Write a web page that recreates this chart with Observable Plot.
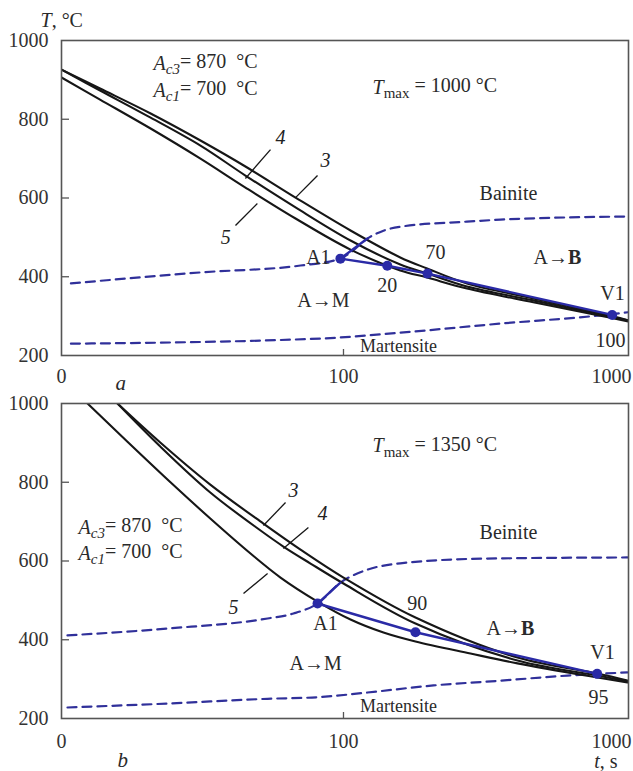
<!DOCTYPE html>
<html>
<head>
<meta charset="utf-8">
<script src="https://cdn.jsdelivr.net/npm/d3@7"></script>
<script src="https://cdn.jsdelivr.net/npm/@observablehq/plot@0.6"></script>
<style>
  html, body { margin: 0; padding: 0; background: #fff; }
  #chart { width: 633px; height: 771px; position: relative; }
  #chart svg { display: block; }
  #chart svg, #chart svg text { font-family: "Liberation Serif", "Times New Roman", serif !important; }
</style>
</head>
<body>
<div id="chart"></div>
<script>
// ---------- shared axis data ----------
const xTicks = [10, 100, 1000];
const xTickLabels = ["0", "100", "1000"];
const yTicks = [200, 400, 600, 800, 1000];

// ---------- panel a (Tmax = 1000 °C) ----------
const aTime = [10, 13.7, 20.7, 31.1, 44.9, 67.6, 105.9, 159, 198, 274, 471, 815, 1025];
const aCurve3 = [926, 878, 814.6, 746, 680, 601, 517.4, 449, 421, 383, 345, 307, 289];
const aCurve4 = [926, 873, 804, 733, 657, 576, 492, 431, 408, 375, 340, 304, 289];
const aCurve5 = [906, 850, 776.5, 700, 626.6, 548, 469, 416, 398, 370, 335, 301, 286];

const aBainiteTime = [10.8, 31.1, 70.4, 97.5, 105.9, 121.6, 138.6, 159, 274, 360, 1025];
const aBainiteTemp = [383, 411, 428.5, 446, 461.5, 497, 517, 527, 540, 545, 553];
const aMartTime = [10.8, 82.8, 159, 360, 815, 1025];
const aMartTemp = [230, 243, 258, 281, 302, 310];

const aPathTime = [97.5, 143, 198.6, 897];
const aPathTemp = [446, 428, 408, 303];
const aBranchTime = [97.5, 121.6];
const aBranchTemp = [446, 497];

// ---------- panel b (Tmax = 1350 °C) ----------
const bTime3 = [15.8, 22.4, 33.7, 52.0, 70.4, 100, 180, 414, 795.5, 1016];
const bCurve3 = [1000, 901, 794, 695, 629, 558, 456.4, 354.8, 314.2, 296.4];
const bTime4 = [15.8, 22.4, 33.7, 50.8, 61.2, 76.4, 100, 180, 414, 795.5, 1016];
const bCurve4 = [1000, 890.8, 774, 677.4, 636.8, 593.6, 542.8, 441.2, 347.2, 309.1, 293.9];
const bTime5 = [12.37, 17.1, 24.4, 33.7, 46.8, 59.8, 80.9, 105.9, 138.6, 180, 282, 414, 795.5, 1016];
const bCurve5 = [1000, 903.5, 799.3, 707.9, 619, 558, 497, 451.4, 418.3, 395.5, 365, 340, 304, 291.3];

const bBainiteTime = [10.5, 23.8, 53.8, 66.5, 80.9, 97.5, 121.6, 159, 313.6, 1016];
const bBainiteTemp = [411, 428.5, 454, 466.6, 492, 545, 578, 594, 606, 609];
const bMartTime = [10.5, 23.8, 53.8, 80.9, 121.6, 208.5, 360, 622, 1016];
const bMartTemp = [228, 238, 250, 254, 266, 284, 296, 309, 317];

const bPathTime = [80.9, 180, 793.6];
const bPathTemp = [492, 419, 313.4];
const bBranchTime = [80.9, 97.5];
const bBranchTemp = [492, 545];

// ---------- helpers ----------
const pts = (xs, ys) => xs.map((x, i) => ({x, y: ys[i]}));
const BLACK = "#161616";
const BLUE = "#30309a";
const BLUE_SOLID = "#2a2aa6";
const GRAY = "#555";
const INK = "#2a2a2a";
const FONT = "'Liberation Serif', 'Times New Roman', serif";

function panel(cfg) {
  const noteMarks = ["start", "middle", "end"].map(anchor =>
    Plot.text(cfg.notes.filter(d => (d.anchor || "middle") === anchor),
      {x: "x", y: "y", text: "t", fontSize: 20, textAnchor: anchor, fill: INK}));
  const marks = [
    Plot.axisY({ticks: yTicks, tickSize: 0, tickPadding: 13, fontSize: 20, tickFormat: d => String(d)}),
    Plot.axisY({ticks: [400, 600, 800], tickSize: 8, dx: 8, stroke: GRAY, strokeWidth: 1.3, tickFormat: () => ""}),
    Plot.axisX({ticks: xTicks.slice(0, 2), tickSize: 0, tickPadding: cfg.xPad, fontSize: 20,
                tickFormat: d => xTickLabels[xTicks.indexOf(d)]}),
    Plot.axisX({ticks: [xTicks[2]], tickSize: 0, tickPadding: cfg.xPad, fontSize: 20, textAnchor: "end", dx: 6,
                tickFormat: d => xTickLabels[xTicks.indexOf(d)]}),
    Plot.axisX({ticks: [100], tickSize: 6, dy: -6, stroke: GRAY, strokeWidth: 1.3, tickFormat: () => ""}),
    // phase boundaries
    Plot.line(pts(cfg.bainiteT, cfg.bainiteV), {x: "x", y: "y", stroke: BLUE, strokeWidth: 2.2,
      strokeDasharray: "9,6", curve: "monotone-x", clip: true}),
    Plot.line(pts(cfg.martT, cfg.martV), {x: "x", y: "y", stroke: BLUE, strokeWidth: 2.2,
      strokeDasharray: "9,6", curve: "monotone-x", clip: true}),
    // cooling curves
    ...cfg.curves.map(c => Plot.line(pts(c[0], c[1]), {x: "x", y: "y", stroke: BLACK, strokeWidth: 2.1,
      curve: "catmull-rom", clip: true})),
    // leaders
    Plot.link(cfg.leaders, {x1: "x1", y1: "y1", x2: "x2", y2: "y2", stroke: BLACK, strokeWidth: 1.3}),
    Plot.text(cfg.leaders, {x: "lx", y: "ly", text: "label", fontSize: 20, fontStyle: "italic", fill: "#222"}),
    // transformation path
    Plot.line(pts(cfg.branchT, cfg.branchV), {x: "x", y: "y", stroke: BLUE_SOLID, strokeWidth: 2.4}),
    Plot.line(pts(cfg.pathT, cfg.pathV), {x: "x", y: "y", stroke: BLUE_SOLID, strokeWidth: 2.4}),
    Plot.dot(pts(cfg.pathT, cfg.pathV), {x: "x", y: "y", r: 5, fill: BLUE_SOLID}),
    // annotations
    ...noteMarks,
    ...cfg.extra,
    Plot.frame({stroke: GRAY, strokeWidth: 1.6})
  ];
  return Plot.plot({
    width: 633,
    height: cfg.height,
    marginTop: cfg.marginTop,
    marginBottom: cfg.marginBottom,
    marginLeft: 61,
    marginRight: 5,
    x: {type: "log", domain: [10, 1025]},
    y: {domain: [200, 1000]},
    style: {fontFamily: FONT, fontSize: "20px", color: "#333", background: "white", overflow: "visible"},
    marks
  });
}

const svgA = panel({
  height: 390, marginTop: 40, marginBottom: 35, xPad: 13,
  curves: [[aTime, aCurve3], [aTime, aCurve4], [aTime, aCurve5]],
  bainiteT: aBainiteTime, bainiteV: aBainiteTemp, martT: aMartTime, martV: aMartTemp,
  pathT: aPathTime, pathV: aPathTemp, branchT: aBranchTime, branchV: aBranchTemp,
  leaders: [
    {x1: 44.9, y1: 649.5, x2: 55.1, y2: 723, lx: 59.8, ly: 754, label: "4"},
    {x1: 67.6, y1: 601, x2: 80.9, y2: 657, lx: 86.3, ly: 695, label: "3"},
    {x1: 41.4, y1: 530, x2: 49.5, y2: 586, lx: 38.2, ly: 500, label: "5"}
  ],
  notes: [
    {x: 21.2, y: 942, t: "Ac3= 870 °C", anchor: "start"},
    {x: 21.2, y: 873, t: "Ac1= 700 °C", anchor: "start"},
    {x: 126.8, y: 881, t: "Tmax = 1000 °C", anchor: "start"},
    {x: 384.6, y: 611, t: "Bainite"},
    {x: 90, y: 449, t: "A1", anchor: "end"},
    {x: 143, y: 377.7, t: "20"},
    {x: 211.8, y: 461.5, t: "70"},
    {x: 574, y: 449, t: "A→B"},
    {x: 899, y: 357, t: "V1"},
    {x: 885, y: 238, t: "100"},
    {x: 84.9, y: 339.6, t: "A→M"},
    {x: 156.7, y: 225.3, t: "Martensite"}
  ],
  extra: [
    Plot.text(["T, °C"], {text: d => d, frameAnchor: "top-left", dx: -21, dy: -20, textAnchor: "start",
      lineAnchor: "middle", fontSize: 20, fill: INK}),
    Plot.text(["a"], {text: d => d, frameAnchor: "bottom-left", dx: 54, dy: 28, lineAnchor: "middle",
      fontSize: 21, fontStyle: "italic", fill: INK})
  ]
});

const svgB = panel({
  height: 381, marginTop: 13, marginBottom: 53, xPad: 15,
  curves: [[bTime3, bCurve3], [bTime4, bCurve4], [bTime5, bCurve5]],
  bainiteT: bBainiteTime, bainiteV: bBainiteTemp, martT: bMartTime, martV: bMartTemp,
  pathT: bPathTime, pathV: bPathTemp, branchT: bBranchTime, branchV: bBranchTemp,
  leaders: [
    {x1: 52.0, y1: 690, x2: 62.3, y2: 748.5, lx: 66.5, ly: 779, label: "3"},
    {x1: 61.2, y1: 631.7, x2: 75.1, y2: 685, lx: 84.2, ly: 720.6, label: "4"},
    {x1: 44.2, y1: 517.4, x2: 53.8, y2: 568, lx: 40.7, ly: 481.8, label: "5"}
  ],
  notes: [
    {x: 11.5, y: 685, t: "Ac3= 870 °C", anchor: "start"},
    {x: 11.5, y: 619, t: "Ac1= 700 °C", anchor: "start"},
    {x: 126.8, y: 893, t: "Tmax = 1350 °C", anchor: "start"},
    {x: 384.6, y: 672, t: "Beinite"},
    {x: 86.3, y: 441, t: "A1"},
    {x: 182.8, y: 492, t: "90"},
    {x: 390.6, y: 428.5, t: "A→B"},
    {x: 828.6, y: 367.5, t: "V1"},
    {x: 802, y: 253, t: "95"},
    {x: 79.6, y: 339.6, t: "A→M"},
    {x: 156.7, y: 233, t: "Martensite"}
  ],
  extra: [
    Plot.text(["b"], {text: d => d, frameAnchor: "bottom-left", dx: 56, dy: 42, lineAnchor: "middle",
      fontSize: 21, fontStyle: "italic", fill: INK}),
    Plot.text(["t, s"], {text: d => d, frameAnchor: "bottom-right", dx: -11, dy: 43, lineAnchor: "middle",
      fontSize: 20, fill: INK})
  ]
});

// rich text: italics, subscripts, bold, smaller words
const richSpecs = {
  "Ac3= 870 °C": [["A", {it: true}], ["c3", {it: true, sub: true}], ["= 870 \u00a0°C", {}]],
  "Ac1= 700 °C": [["A", {it: true}], ["c1", {it: true, sub: true}], ["= 700 \u00a0°C", {}]],
  "Tmax = 1000 °C": [["T", {it: true}], ["max", {sub: true}], [" = 1000 °C", {}]],
  "Tmax = 1350 °C": [["T", {it: true}], ["max", {sub: true}], [" = 1350 °C", {}]],
  "A→B": [["A→", {}], ["B", {bold: true}]],
  "T, °C": [["T", {it: true}], [", °C", {}]],
  "t, s": [["t", {it: true}], [", s", {}]],
  "Martensite": [["Martensite", {size: "18px"}]]
};
function richify(svg) {
  svg.querySelectorAll("text").forEach(t => {
    const spec = richSpecs[t.textContent];
    if (!spec) return;
    while (t.firstChild) t.removeChild(t.firstChild);
    let shifted = false;
    spec.forEach(([s, o]) => {
      const ts = document.createElementNS("http://www.w3.org/2000/svg", "tspan");
      ts.textContent = s;
      if (o.it) ts.setAttribute("font-style", "italic");
      if (o.bold) ts.setAttribute("font-weight", "bold");
      if (o.size) ts.setAttribute("font-size", o.size);
      if (o.sub) { ts.setAttribute("font-size", "75%"); ts.setAttribute("dy", "0.3em"); shifted = true; }
      else if (shifted) { ts.setAttribute("dy", "-0.3em"); shifted = false; }
      t.appendChild(ts);
    });
  });
}
richify(svgA);
richify(svgB);

const chart = document.getElementById("chart");
chart.appendChild(svgA);
chart.appendChild(svgB);
</script>
</body>
</html>
